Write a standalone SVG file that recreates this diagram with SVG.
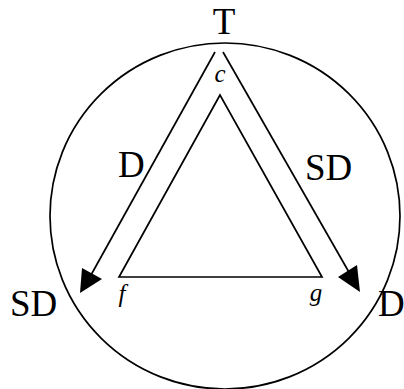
<svg xmlns="http://www.w3.org/2000/svg" width="404" height="389" viewBox="0 0 404 389">
<style>
.s{fill:none;stroke:#000;stroke-width:1.7}
.t{font-family:"Liberation Serif",serif;font-size:37px;fill:#000}
.i{font-family:"Liberation Serif",serif;font-size:25px;font-style:italic;fill:#000}
</style>
<rect width="404" height="389" fill="#fff"/>
<g id="circle"><ellipse class="s" cx="225" cy="216" rx="175" ry="173"/></g>
<g id="triangle"><polygon class="s" points="220,95 119,277 322,277"/></g>
<g id="connectors">
<line class="s" x1="215" y1="52" x2="91" y2="275"/>
<polygon points="80,293 82,268 102,279" fill="#000"/>
<line class="s" x1="223" y1="52" x2="350" y2="274"/>
<polygon points="360,292 338,277 357,265" fill="#000"/>
</g>
<g id="labels">
<text class="t" x="224" y="34" text-anchor="middle">T</text>
<text class="t" x="118" y="177">D</text>
<text class="t" x="305" y="180">SD</text>
<text class="t" x="10" y="316">SD</text>
<text class="t" x="378" y="316">D</text>
<text class="i" x="220" y="82" text-anchor="middle">c</text>
<text class="i" x="122" y="302" text-anchor="middle">f</text>
<text class="i" x="316" y="301" text-anchor="middle">g</text>
</g>
</svg>
